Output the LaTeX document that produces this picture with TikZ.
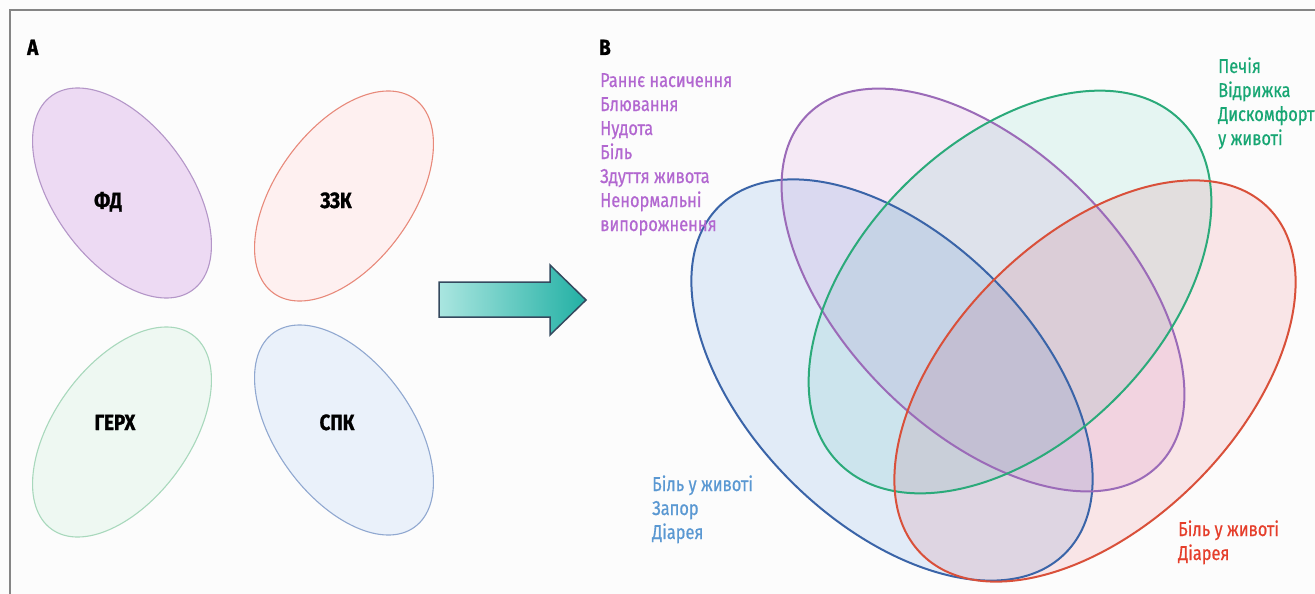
\documentclass[tikz,border=0pt]{standalone}
\usepackage{fontspec}
\setmainfont{Fira Sans}[FakeStretch=0.82, FakeBold=0.6]
\newfontfamily\labelfont{Fira Sans}[FakeStretch=0.85, FakeBold=1.2]
\usetikzlibrary{shapes.geometric}
\definecolor{bgc}{HTML}{FCFCFC}
\definecolor{framec}{HTML}{858585}
\definecolor{fdfill}{HTML}{EDDAF3}\definecolor{fdline}{HTML}{B496C8}
\definecolor{zzfill}{HTML}{FEF0F0}\definecolor{zzline}{HTML}{E8897A}
\definecolor{gefill}{HTML}{EEF8F2}\definecolor{geline}{HTML}{A8D8BC}
\definecolor{spfill}{HTML}{EAF1FA}\definecolor{spline}{HTML}{90A8D0}
\definecolor{vblue}{RGB}{228,238,250}\definecolor{vbluel}{HTML}{3A64A8}
\definecolor{vpurp}{RGB}{248,236,248}\definecolor{vpurpl}{HTML}{9B6BB8}
\definecolor{vgreen}{RGB}{232,248,245}\definecolor{vgreenl}{HTML}{2BAA7A}
\definecolor{vred}{RGB}{252,232,234}\definecolor{vredl}{HTML}{D9503A}
\definecolor{tpurp}{HTML}{B267D0}
\definecolor{tgreen}{HTML}{17A673}
\definecolor{tblue}{HTML}{5A98D2}
\definecolor{tred}{HTML}{E53E2B}
\definecolor{arrL}{HTML}{AAE6E0}
\definecolor{arrR}{HTML}{22B0A4}
\definecolor{arrline}{HTML}{34495E}
\tikzset{
  smallell/.style={line width=1.1pt},
  vennfill/.style={blend mode=multiply},
  vennline/.style={line width=2pt},
  lbl/.style={font=\labelfont\fontsize{22}{22}\selectfont\bfseries, inner sep=0pt, anchor=base},
  panel/.style={font=\labelfont\fontsize{22}{22}\selectfont\bfseries, inner sep=0pt, anchor=base west},
  txt/.style={font=\fontsize{20}{24}\selectfont, inner sep=0pt, anchor=base west},
}
\begin{document}
\begin{tikzpicture}[x=1pt,y=-1pt]
\useasboundingbox (0,0) rectangle (1315,594);
\fill[bgc] (0,0) rectangle (1315,594);
\draw[framec, line width=2pt] (10,594) -- (10,10) -- (1316,10);

% panel A
\node[panel] (lA) at (27,55) {A};
\filldraw[fdline, fill=fdfill, smallell, rotate around={-54:(122,193)}] (122,193) ellipse [x radius=120, y radius=68];
\filldraw[zzline, fill=zzfill, smallell, rotate around={54:(344,196)}] (344,196) ellipse [x radius=120, y radius=68];
\filldraw[geline, fill=gefill, smallell, rotate around={54:(122,432)}] (122,432) ellipse [x radius=120, y radius=68];
\filldraw[spline, fill=spfill, smallell, rotate around={-54:(344,430)}] (344,430) ellipse [x radius=120, y radius=68];
\node[lbl] (fd) at (108,208) {ФД};
\node[lbl] (zzk) at (336,208) {ЗЗК};
\node[lbl] (gerh) at (115,430) {ГЕРХ};
\node[lbl] (spk) at (337,430) {СПК};

% arrow
\shade[left color=arrL, right color=arrR, draw=arrline, line width=1.5pt, line join=miter]
  (439,282) -- (550,282) -- (550,265) -- (586,300) -- (550,335) -- (550,317) -- (439,317) -- cycle;

% panel B
\node[panel] (lB) at (599,55) {B};

% venn fills
\fill[vblue, vennfill, rotate around={-45:(892,380)}] (892,380) ellipse [x radius=245, y radius=143];
\fill[vpurp, vennfill, rotate around={-45:(983,290)}] (983,290) ellipse [x radius=248, y radius=140];
\fill[vgreen, vennfill, rotate around={45:(1010,292)}] (1010,292) ellipse [x radius=242, y radius=150];
\fill[vred, vennfill, rotate around={45:(1095,381)}] (1095,381) ellipse [x radius=245, y radius=143];
% venn outlines
\draw[vbluel, vennline, rotate around={-45:(892,380)}] (892,380) ellipse [x radius=245, y radius=143];
\draw[vpurpl, vennline, rotate around={-45:(983,290)}] (983,290) ellipse [x radius=248, y radius=140];
\draw[vgreenl, vennline, rotate around={45:(1010,292)}] (1010,292) ellipse [x radius=242, y radius=150];
\draw[vredl, vennline, rotate around={45:(1095,381)}] (1095,381) ellipse [x radius=245, y radius=143];

% texts
\node[txt, tpurp] (p1) at (600,87) {Раннє насичення};
\node[txt, tpurp] (p2) at (600,111) {Блювання};
\node[txt, tpurp] (p3) at (600,135) {Нудота};
\node[txt, tpurp] (p4) at (600,159) {Біль};
\node[txt, tpurp] (p5) at (600,183) {Здуття живота};
\node[txt, tpurp] (p6) at (600,207) {Ненормальні};
\node[txt, tpurp] (p7) at (600,231) {випорожнення};
\node[txt, tgreen] (g1) at (1218,73) {Печія};
\node[txt, tgreen] (g2) at (1218,97) {Відрижка};
\node[txt, tgreen] (g3) at (1218,121) {Дискомфорт};
\node[txt, tgreen] (g4) at (1218,145) {у животі};
\node[txt, tblue] (b1) at (652,491) {Біль у животі};
\node[txt, tblue] (b2) at (652,515) {Запор};
\node[txt, tblue] (b3) at (652,539) {Діарея};
\node[txt, tred] (r1) at (1178,536) {Біль у животі};
\node[txt, tred] (r2) at (1178,560) {Діарея};
\end{tikzpicture}
\end{document}
